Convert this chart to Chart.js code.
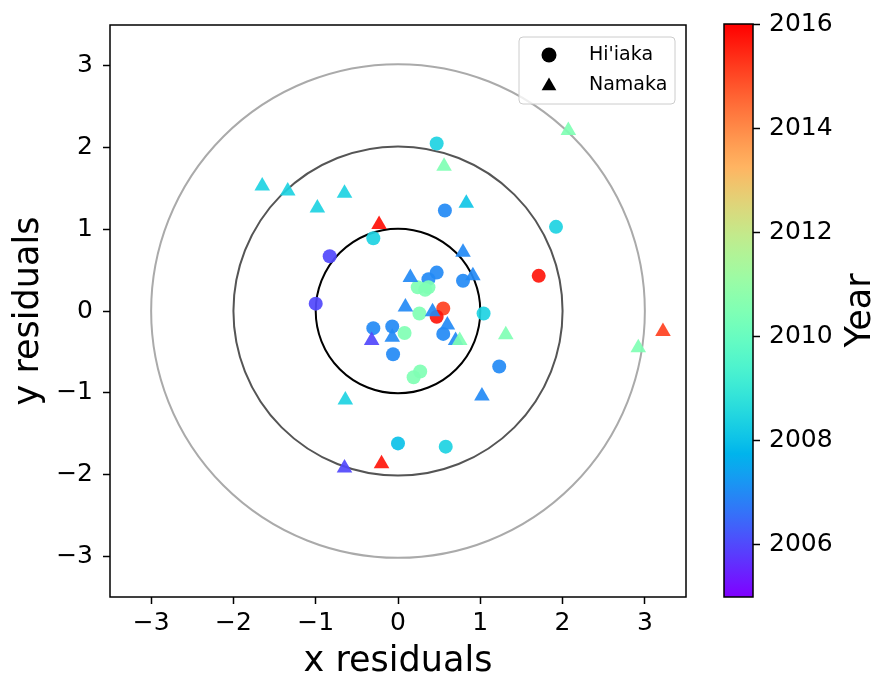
<!DOCTYPE html>
<html>
<head>
<meta charset="utf-8">
<script src="https://cdn.jsdelivr.net/npm/chart.js@4.4.1/dist/chart.umd.min.js"></script>
<style>
  body { margin: 0; background: #fff; }
  #wrap { position: relative; width: 880px; height: 683px; }
  #main { position: absolute; left: 0; top: 0; }
  #cbar { position: absolute; left: 700px; top: 0; }
</style>
</head>
<body>
<div id="wrap">
  <canvas id="main" width="880" height="683"></canvas>
  <canvas id="cbar" width="180" height="683"></canvas>
</div>
<script>
// data
const seriesNames = ["Hi'iaka", "Namaka"];

const hiiakaX = [0.47, 0.57, 1.92, 1.71, -0.30, -0.83, -1.00, 0.47, 0.37, 0.79, 0.24, 0.37, 0.33,
                 0.55, 0.47, 0.26, 1.04, 0.55, -0.30, -0.07, 0.08, -0.06, 1.23, 0.19, 0.27, 0.00, 0.58];
const hiiakaY = [2.05, 1.23, 1.03, 0.43, 0.89, 0.67, 0.09, 0.47, 0.39, 0.37, 0.29, 0.29, 0.26,
                 0.03, -0.07, -0.03, -0.03, -0.28, -0.21, -0.19, -0.27, -0.53, -0.68, -0.81, -0.74, -1.62, -1.66];
const hiiakaYear = [2008.4, 2007.0, 2008.4, 2015.7, 2008.4, 2006.0, 2006.0, 2007.0, 2007.0, 2007.0, 2010.5, 2010.5, 2010.5,
                    2015.1, 2015.7, 2010.5, 2008.4, 2007.0, 2007.0, 2007.0, 2010.5, 2007.0, 2007.0, 2010.5, 2010.5, 2008.0, 2008.4];

const namakaX = [2.07, 0.56, -1.65, -1.34, -0.98, -0.65, 0.83, -0.23, 0.79, 0.91, 0.15, 0.09, 0.42,
                 0.60, 0.70, 0.75, 1.31, -0.07, -0.32, 3.22, 2.92, 1.02, -0.64, -0.65, -0.20];
const namakaY = [2.21, 1.77, 1.53, 1.47, 1.26, 1.44, 1.32, 1.06, 0.72, 0.43, 0.41, 0.05, -0.01,
                 -0.17, -0.36, -0.36, -0.29, -0.32, -0.36, -0.25, -0.45, -1.04, -1.09, -1.92, -1.87];
const namakaYear = [2010.5, 2010.5, 2008.4, 2008.4, 2008.4, 2008.4, 2008.1, 2015.8, 2007.0, 2007.0, 2007.0, 2007.0, 2007.0,
                    2007.0, 2007.0, 2010.5, 2010.5, 2007.0, 2006.0, 2015.1, 2010.5, 2007.0, 2008.4, 2006.0, 2015.7];

const ringRadii = [1, 2, 3];
const axisTicks = [-3, -2, -1, 0, 1, 2, 3];
const yearTicks = [2006, 2008, 2010, 2012, 2014, 2016];
const yearMin = 2005;
const yearMax = 2016;

const FONT = 'DejaVu Sans';
const tickFont = { family: FONT, size: 25 };
const titleFont = { family: FONT, size: 35 };
const ringColors = ['#000000', '#555555', '#aaaaaa'];

// matplotlib "rainbow" colormap
function yearColor(yr, alpha) {
  const t = Math.min(1, Math.max(0, (yr - yearMin) / (yearMax - yearMin)));
  const r = Math.min(1, Math.abs(2 * t - 0.5));
  const g = Math.sin(Math.PI * t);
  const b = Math.cos(Math.PI * t / 2);
  return 'rgba(' + Math.round(255 * r) + ',' + Math.round(255 * g) + ',' + Math.round(255 * b) + ',' + (alpha == null ? 1 : alpha) + ')';
}

function minus(v) {
  return v < 0 ? '\u2212' + Math.abs(v) : String(v);
}

function toPoints(xs, ys) {
  return xs.map((x, i) => ({ x: x, y: ys[i] }));
}

const ringsPlugin = {
  id: 'rings',
  beforeDatasetsDraw(chart) {
    const { ctx, chartArea: a, scales: { x, y } } = chart;
    const cx = x.getPixelForValue(0);
    const cy = y.getPixelForValue(0);
    ctx.save();
    ctx.beginPath();
    ctx.rect(a.left, a.top, a.right - a.left, a.bottom - a.top);
    ctx.clip();
    ringRadii.forEach((r, i) => {
      ctx.beginPath();
      ctx.arc(cx, cy, x.getPixelForValue(r) - cx, 0, 2 * Math.PI);
      ctx.strokeStyle = ringColors[i];
      ctx.lineWidth = 2;
      ctx.stroke();
    });
    ctx.restore();
  }
};

const frameLegendPlugin = {
  id: 'frameLegend',
  afterDatasetsDraw(chart) {
    const { ctx, chartArea: a } = chart;
    ctx.save();
    ctx.strokeStyle = '#000';
    ctx.lineWidth = 1.5;
    ctx.strokeRect(a.left, a.top, a.right - a.left, a.bottom - a.top);

    // legend box, upper right
    const bx = a.right - 167, by = a.top + 12, bw = 156, bh = 67;
    ctx.beginPath();
    ctx.roundRect(bx, by, bw, bh, 4);
    ctx.fillStyle = 'rgba(255,255,255,0.8)';
    ctx.fill();
    ctx.strokeStyle = '#cccccc';
    ctx.lineWidth = 1;
    ctx.stroke();

    const styles = ['circle', 'triangle'];
    const radii = [7.5, 8.5];
    ctx.font = '19px "' + FONT + '"';
    ctx.textBaseline = 'middle';
    ctx.textAlign = 'left';
    seriesNames.forEach((name, i) => {
      const yy = by + 18 + i * 30;
      ctx.fillStyle = '#000';
      ctx.strokeStyle = '#000';
      Chart.helpers.drawPoint(ctx, { pointStyle: styles[i], radius: radii[i], rotation: 0, borderWidth: 0 }, bx + 30, yy + (i ? 1 : 0));
      ctx.fillStyle = '#000';
      ctx.fillText(name, bx + 70, yy);
    });
    ctx.restore();
  }
};

new Chart(document.getElementById('main'), {
  type: 'scatter',
  data: {
    datasets: [
      {
        label: seriesNames[0],
        data: toPoints(hiiakaX, hiiakaY),
        pointStyle: 'circle',
        pointRadius: 7,
        pointBackgroundColor: hiiakaYear.map(v => yearColor(v, 0.92)),
        pointBorderWidth: 0,
        pointBorderColor: 'rgba(0,0,0,0)',
        order: 2
      },
      {
        label: seriesNames[1],
        data: toPoints(namakaX, namakaY),
        pointStyle: 'triangle',
        pointRadius: 9,
        pointBackgroundColor: namakaYear.map(v => yearColor(v, 0.92)),
        pointBorderWidth: 0,
        pointBorderColor: 'rgba(0,0,0,0)',
        order: 1
      }
    ]
  },
  options: {
    responsive: false,
    animation: false,
    layout: { padding: { top: 21, right: 194, left: 0, bottom: 0 } },
    plugins: { legend: { display: false }, tooltip: { enabled: false } },
    scales: {
      x: {
        type: 'linear', min: -3.5, max: 3.5,
        afterBuildTicks: s => { s.ticks = axisTicks.map(v => ({ value: v })); },
        afterFit: s => { s.height = 86; },
        ticks: { font: tickFont, color: '#000', padding: 4, maxRotation: 0, callback: v => minus(v) },
        grid: { drawOnChartArea: false, drawTicks: true, tickLength: 7, tickWidth: 1.5, tickColor: '#000' },
        border: { display: false },
        title: { display: true, text: 'x residuals', font: titleFont, color: '#000', padding: { top: 0, bottom: 0 } }
      },
      y: {
        type: 'linear', min: -3.5, max: 3.5,
        afterBuildTicks: s => { s.ticks = axisTicks.map(v => ({ value: v })); },
        afterFit: s => { s.width = 110; },
        ticks: { font: tickFont, color: '#000', padding: 10, callback: v => minus(v) },
        grid: { drawOnChartArea: false, drawTicks: true, tickLength: 7, tickWidth: 1.5, tickColor: '#000' },
        border: { display: false },
        title: { display: true, text: 'y residuals', font: titleFont, color: '#000', padding: { top: 8, bottom: 0 } }
      }
    }
  },
  plugins: [ringsPlugin, frameLegendPlugin]
});

// colour bar
const colorbarPlugin = {
  id: 'colorbar',
  beforeDraw(chart) {
    const { ctx, chartArea: a, scales: { y } } = chart;
    const y0 = y.getPixelForValue(yearMin);
    const y1 = y.getPixelForValue(yearMax);
    const grad = ctx.createLinearGradient(0, y0, 0, y1);
    for (let i = 0; i <= 40; i++) {
      const t = i / 40;
      grad.addColorStop(t, yearColor(yearMin + t * (yearMax - yearMin), 1));
    }
    ctx.save();
    ctx.fillStyle = grad;
    ctx.fillRect(a.left, a.top, a.right - a.left, a.bottom - a.top);
    ctx.restore();
  },
  afterDraw(chart) {
    const { ctx, chartArea: a } = chart;
    ctx.save();
    ctx.strokeStyle = '#000';
    ctx.lineWidth = 1.5;
    ctx.strokeRect(a.left, a.top, a.right - a.left, a.bottom - a.top);
    // axis label, reading bottom to top like matplotlib
    ctx.translate(161, (a.top + a.bottom) / 2);
    ctx.rotate(-Math.PI / 2);
    ctx.font = '35px "' + FONT + '"';
    ctx.fillStyle = '#000';
    ctx.textAlign = 'center';
    ctx.textBaseline = 'middle';
    ctx.fillText('Year', 0, 0);
    ctx.restore();
  }
};

new Chart(document.getElementById('cbar'), {
  type: 'scatter',
  data: { datasets: [] },
  options: {
    responsive: false,
    animation: false,
    layout: { padding: { top: 21, left: 24, right: 0, bottom: 86 } },
    plugins: { legend: { display: false }, tooltip: { enabled: false } },
    scales: {
      x: { display: false, min: 0, max: 1 },
      y: {
        position: 'right', min: yearMin, max: yearMax,
        afterBuildTicks: s => { s.ticks = yearTicks.map(v => ({ value: v })); },
        afterFit: s => { s.width = 127; },
        ticks: { font: tickFont, color: '#000', padding: 9, callback: v => String(v) },
        grid: { drawOnChartArea: false, drawTicks: true, tickLength: 7, tickWidth: 1.5, tickColor: '#000' },
        border: { display: false }
      }
    }
  },
  plugins: [colorbarPlugin]
});
</script>
</body>
</html>
